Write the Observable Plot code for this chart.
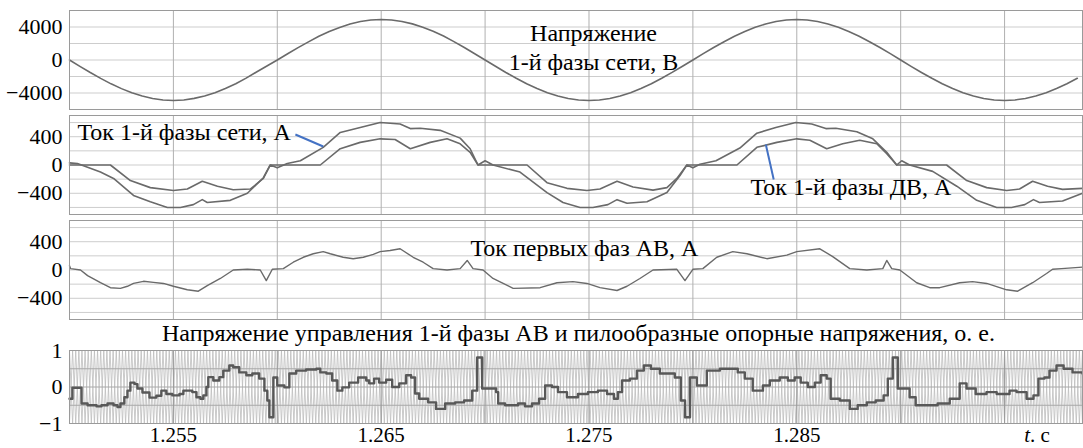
<!DOCTYPE html>
<html><head><meta charset="utf-8">
<script src="https://cdn.jsdelivr.net/npm/d3@7"></script>
<script src="https://cdn.jsdelivr.net/npm/@observablehq/plot@0.6"></script>
<style>
html,body{margin:0;padding:0;background:#fff;}
#chart{position:relative;width:1083px;height:448px;overflow:hidden;}
#chart svg{position:absolute;left:0;}
</style></head><body><div id="chart"></div>
<script>
// ---------------- data ----------------
const xDomain = [1.25, 1.29875];
const xGridTicks = [1.255, 1.26, 1.265, 1.27, 1.275, 1.28, 1.285, 1.29, 1.295];
const xTickLabels = [1.255, 1.265, 1.275, 1.285];
const voltageTickLabels = [-4000, 0, 4000];
const voltageGrid = [-4000, -2000, 0, 2000, 4000];
const currentTickLabels = [-400, 0, 400];
const currentGrid = [-600, -400, -200, 0, 200, 400, 600];
const controlTickLabels = [-1, 0, 1];
const controlGrid = [-0.5, 0, 0.5];

// grid phase voltage, V, sampled every 0.5 ms from t = 1.25 s
const voltageStep = 0.0005;
const gridVoltage = [
  0, -770, -1520, -2230, -2890, -3470, -3970, -4370, -4660, -4840, -4900, -4840, -4650, -4360, -3960, -3450, -2880, -2200, -1450, -720,
  0, 760, 1500, 2200, 2870, 3450, 3950, 4360, 4660, 4840, 4900, 4850, 4670, 4380, 3980, 3480, 2900, 2230, 1520, 760,
  0, -760, -1510, -2220, -2880, -3460, -3960, -4370, -4660, -4840, -4900, -4840, -4660, -4370, -3960, -3460, -2870, -2210, -1500, -750,
  0, 770, 1510, 2220, 2880, 3460, 3960, 4370, 4660, 4840, 4900, 4840, 4660, 4370, 3960, 3460, 2880, 2220, 1510, 770,
  0, -770, -1510, -2220, -2880, -3460, -3960, -4370, -4660, -4840, -4900, -4840, -4660, -4370, -3960, -3460, -2880, -2220
];

// grid phase current, A
const gridCurrentT = [1.25000,1.25038,1.25149,1.25212,1.25308,1.25389,1.25471,1.25534,1.25596,1.25639,
  1.25663,1.25774,1.25856,1.25933,1.25966,1.26000,1.26048,1.26111,1.26221,1.26303,
  1.26399,1.26495,1.26591,1.26640,1.26688,1.26784,1.26880,1.26928,1.26966,1.27000,
  1.27038,1.27168,1.27298,1.27375,1.27457,1.27519,1.27591,1.27635,1.27683,1.27779,
  1.27875,1.27938,1.27971,1.28000,1.28034,1.28111,1.28226,1.28308,1.28399,1.28495,
  1.28572,1.28640,1.28688,1.28789,1.28866,1.28933,1.28981,1.29005,1.29043,1.29154,
  1.29270,1.29366,1.29462,1.29534,1.29597,1.29639,1.29668,1.29779,1.29875];
const gridCurrent = [30,20,-100,-190,-430,-520,-600,-600,-560,-490,
  -530,-500,-400,-180,0,-40,20,60,250,460,
  530,600,580,515,520,490,380,230,0,60,
  0,-100,-390,-530,-600,-600,-560,-490,-540,-520,
  -390,-150,0,-40,10,60,240,450,530,600,
  580,515,520,470,370,180,0,60,0,-90,
  -300,-500,-600,-600,-560,-490,-530,-510,-400];

// motor (ДВ) phase current, A
const motorCurrentT = [1.25000,1.25197,1.25293,1.25389,1.25500,1.25567,1.25639,1.25712,1.25788,1.25870,
  1.25933,1.25966,1.26207,1.26303,1.26399,1.26495,1.26567,1.26640,1.26736,1.26817,
  1.26880,1.26928,1.26966,1.27202,1.27298,1.27394,1.27490,1.27553,1.27635,1.27712,
  1.27808,1.27875,1.27923,1.27971,1.28212,1.28308,1.28404,1.28500,1.28563,1.28644,
  1.28721,1.28803,1.28885,1.28933,1.28981,1.29221,1.29318,1.29414,1.29510,1.29572,
  1.29635,1.29707,1.29779,1.29875];
const motorCurrent = [0,0,-220,-320,-360,-340,-230,-300,-350,-340,
  -190,0,0,230,320,370,360,230,320,370,
  300,180,0,0,-250,-330,-360,-340,-230,-310,
  -355,-320,-190,0,0,250,320,370,350,230,
  300,350,300,160,0,0,-220,-320,-360,-340,
  -230,-300,-345,-330];

// first phases of AV current, A
const avCurrentT = [1.25000,1.25005,1.25053,1.25087,1.25149,1.25197,1.25245,1.25279,1.25308,1.25356,
  1.25404,1.25452,1.25500,1.25567,1.25620,1.25663,1.25726,1.25788,1.25856,1.25918,
  1.25947,1.25976,1.26029,1.26077,1.26125,1.26173,1.26221,1.26255,1.26317,1.26365,
  1.26414,1.26462,1.26495,1.26543,1.26591,1.26654,1.26702,1.26750,1.26817,1.26880,
  1.26914,1.26942,1.26990,1.27038,1.27087,1.27135,1.27265,1.27346,1.27423,1.27490,
  1.27553,1.27635,1.27683,1.27745,1.27808,1.27923,1.27962,1.28000,1.28048,1.28115,
  1.28192,1.28260,1.28356,1.28452,1.28500,1.28611,1.28673,1.28755,1.28837,1.28914,
  1.28933,1.28957,1.28996,1.29077,1.29140,1.29188,1.29284,1.29346,1.29414,1.29510,
  1.29563,1.29635,1.29702,1.29731,1.29774,1.29875];
const avCurrent = [60,20,0,-80,-180,-250,-260,-230,-190,-160,
  -175,-190,-230,-280,-300,-220,-120,0,10,0,
  -150,10,20,110,180,230,260,230,180,160,
  180,220,260,275,300,180,110,20,0,20,
  135,20,0,-120,-190,-260,-250,-180,-165,-190,
  -250,-290,-230,-120,0,10,-150,10,20,180,
  260,230,160,210,260,300,190,20,0,20,
  135,20,0,-180,-250,-250,-180,-165,-190,-280,
  -300,-180,-50,10,20,40];

// control voltage of AV phase 1, p.u. (stepwise)
const controlT = [1.25000,1.25014,1.25058,1.25087,1.25130,1.25154,1.25183,1.25212,1.25231,1.25245,
  1.25264,1.25279,1.25293,1.25313,1.25327,1.25351,1.25385,1.25418,1.25442,1.25466,
  1.25495,1.25529,1.25548,1.25591,1.25611,1.25630,1.25644,1.25659,1.25668,1.25692,
  1.25721,1.25740,1.25769,1.25788,1.25817,1.25851,1.25880,1.25913,1.25938,1.25952,
  1.25962,1.25981,1.26000,1.26034,1.26058,1.26091,1.26139,1.26188,1.26207,1.26236,
  1.26264,1.26289,1.26313,1.26346,1.26389,1.26428,1.26442,1.26466,1.26490,1.26524,
  1.26553,1.26587,1.26620,1.26644,1.26663,1.26683,1.26726,1.26764,1.26808,1.26856,
  1.26899,1.26938,1.26962,1.26986,1.27053,1.27063,1.27096,1.27159,1.27192,1.27226,
  1.27260,1.27289,1.27322,1.27351,1.27394,1.27447,1.27495,1.27543,1.27587,1.27620,
  1.27639,1.27659,1.27697,1.27731,1.27764,1.27798,1.27841,1.27913,1.27942,1.27962,
  1.27986,1.28019,1.28067,1.28130,1.28216,1.28250,1.28288,1.28337,1.28370,1.28418,
  1.28457,1.28490,1.28519,1.28553,1.28587,1.28615,1.28644,1.28663,1.28707,1.28755,
  1.28793,1.28837,1.28880,1.28918,1.28938,1.28962,1.28986,1.29043,1.29072,1.29178,
  1.29236,1.29284,1.29317,1.29361,1.29413,1.29462,1.29524,1.29558,1.29606,1.29639,
  1.29663,1.29692,1.29716,1.29750,1.29784,1.29827,1.29875];
const controlV = [-0.32,-0.02,-0.45,-0.5,-0.53,-0.5,-0.45,-0.5,-0.55,-0.45,
  -0.28,-0.1,0.12,0.08,-0.04,-0.15,-0.29,-0.24,-0.1,-0.19,
  -0.23,-0.19,-0.1,-0.14,-0.28,-0.32,-0.23,0,0.27,0.18,
  0.27,0.45,0.59,0.54,0.4,0.32,0.37,0.23,-0.1,-0.37,
  -0.83,0.26,0.04,-0.01,0.37,0.45,0.48,0.5,0.4,0.37,
  0.18,-0.1,-0.01,0.12,0.26,0.18,0.1,0.23,0.12,0.2,
  0,0.1,0.32,0.26,-0.18,-0.32,-0.42,-0.6,-0.45,-0.42,
  -0.37,-0.1,0.81,-0.04,-0.14,-0.45,-0.5,-0.45,-0.53,-0.45,
  -0.32,0.04,0,-0.14,-0.28,-0.19,-0.14,-0.1,-0.19,-0.32,
  -0.14,0.18,0.23,0.45,0.59,0.5,0.37,0.26,-0.37,-0.83,
  0.26,0.04,0.45,0.5,0.4,0.23,-0.1,0.04,0.18,0.26,
  0.18,0.26,0.12,0,0.12,0.32,0.23,-0.32,-0.37,-0.6,
  -0.5,-0.42,-0.37,-0.23,0.23,0.81,-0.04,-0.28,-0.5,-0.45,
  -0.32,0.1,-0.04,-0.19,-0.14,-0.19,-0.1,-0.14,-0.32,-0.23,
  0.23,0.26,0.45,0.59,0.5,0.4,0.37];

// two opposite-phase triangular reference carriers: half period, s, vertex count, start levels
const carrierHalfPeriod = 0.00015;
const carrierVertices = 326;
const carrierStartLevels = [-1, 1];

// ---------------- build tables ----------------
const voltageData = gridVoltage.map((v, i) => ({t: 1.25 + i * voltageStep, v}));
const gridCurData = gridCurrentT.map((t, i) => ({t, v: gridCurrent[i]}));
const motorCurData = motorCurrentT.map((t, i) => ({t, v: motorCurrent[i]}));
const avCurData = avCurrentT.map((t, i) => ({t, v: avCurrent[i]}));
const controlData = controlT.map((t, i) => ({t, v: controlV[i]}));
const carrierData = carrierStartLevels.flatMap((s, c) =>
  d3.range(carrierVertices).map(k => ({c, t: 1.25 + k * carrierHalfPeriod, v: k % 2 ? -s : s})));

// ---------------- styles ----------------
const W = 1083;
const FONT = "Liberation Serif";
const LINE = "#6a6a6a";
const GRID = "#cdcdcd";
const VGRID = "#b0b0b0";
const FRAME = "#9a9a9a";
const BLUE = "#4472c4";
const TICK_FS = 22;
const LABEL_FS = 24;
const chart = document.getElementById("chart");
const numFmt = d3.format("d");

function place(svg, top) {
  svg.style.top = top + "px";
  chart.appendChild(svg);
  return svg;
}
const baseStyle = {fontFamily: FONT, fontSize: TICK_FS + "px", color: "#000", background: "transparent", overflow: "visible"};
const yAxisOpts = {tickSize: 0, tickPadding: 7, fontSize: TICK_FS, label: null, tickFormat: numFmt, fontFamily: FONT};
const labelOpts = {fontFamily: FONT, fontSize: LABEL_FS, fill: "#000", lineAnchor: "middle", frameAnchor: "top-left"};

// Panel 1: grid voltage
place(Plot.plot({
  width: W, height: 112, marginLeft: 69, marginRight: 1, marginTop: 10, marginBottom: 3,
  x: {domain: xDomain, axis: null, label: null},
  y: {domain: [-6000, 6000], label: null},
  style: baseStyle,
  marks: [
    Plot.gridY(voltageGrid, {stroke: GRID, strokeOpacity: 1}),
    Plot.gridX(xGridTicks, {stroke: VGRID, strokeOpacity: 1}),
    Plot.line(voltageData, {x: "t", y: "v", stroke: LINE, strokeWidth: 1.6}),
    Plot.frame({stroke: FRAME}),
    Plot.axisY(voltageTickLabels, yAxisOpts),
    Plot.text(["Напряжение"], {...labelOpts, textAnchor: "middle", dx: 524, dy: 23}),
    Plot.text(["1-й фазы сети, В"], {...labelOpts, textAnchor: "middle", dx: 524, dy: 52})
  ]
}), 0);

// Panel 2: grid current and motor current
place(Plot.plot({
  width: W, height: 105, marginLeft: 69, marginRight: 1, marginTop: 3, marginBottom: 3,
  x: {domain: xDomain, axis: null, label: null},
  y: {domain: [-700, 700], label: null},
  style: baseStyle,
  marks: [
    Plot.gridY(currentGrid, {stroke: GRID, strokeOpacity: 1}),
    Plot.gridX(xGridTicks, {stroke: VGRID, strokeOpacity: 1}),
    Plot.line(motorCurData, {x: "t", y: "v", stroke: LINE, strokeWidth: 1.6}),
    Plot.line(gridCurData, {x: "t", y: "v", stroke: LINE, strokeWidth: 1.6}),
    Plot.frame({stroke: FRAME}),
    Plot.axisY(currentTickLabels, yAxisOpts),
    Plot.text(["Ток 1-й фазы сети, А"], {...labelOpts, textAnchor: "start", dx: 8, dy: 17}),
    Plot.text(["Ток 1-й фазы ДВ, А"], {...labelOpts, textAnchor: "start", dx: 681, dy: 72}),
    Plot.link([0], {x1: [1.26087], y1: [431], x2: [1.26221], y2: [262], stroke: BLUE, strokeWidth: 2}),
    Plot.link([0], {x1: [1.28351], y1: [290], x2: [1.28389], y2: [-205], stroke: BLUE, strokeWidth: 2})
  ]
}), 112);

// Panel 3: AV first-phase currents
place(Plot.plot({
  width: W, height: 105, marginLeft: 69, marginRight: 1, marginTop: 3, marginBottom: 3,
  x: {domain: xDomain, axis: null, label: null},
  y: {domain: [-700, 700], label: null},
  style: baseStyle,
  marks: [
    Plot.gridY(currentGrid, {stroke: GRID, strokeOpacity: 1}),
    Plot.gridX(xGridTicks, {stroke: VGRID, strokeOpacity: 1}),
    Plot.line(avCurData, {x: "t", y: "v", stroke: LINE, strokeWidth: 1.4}),
    Plot.frame({stroke: FRAME}),
    Plot.axisY(currentTickLabels, yAxisOpts),
    Plot.text(["Ток первых фаз АВ, А"], {...labelOpts, textAnchor: "start", dx: 401, dy: 28})
  ]
}), 217);

// Panel 4: control voltage and carriers
const p4 = place(Plot.plot({
  width: W, height: 126, marginLeft: 69, marginRight: 1, marginTop: 28, marginBottom: 25,
  x: {domain: xDomain, label: null},
  y: {domain: [-1, 1], label: null},
  style: baseStyle,
  marks: [
    Plot.line(carrierData, {x: "t", y: "v", z: "c", stroke: "#bdbdbd", strokeWidth: 0.8}),
    Plot.gridY(controlGrid, {stroke: "#a8a8a8", strokeOpacity: 1}),
    Plot.gridX(xGridTicks, {stroke: "#999", strokeOpacity: 1}),
    Plot.line(controlData, {x: "t", y: "v", curve: "step-after", stroke: "#585858", strokeWidth: 2.4}),
    Plot.frame({stroke: FRAME}),
    Plot.axisY(controlTickLabels, yAxisOpts),
    Plot.axisX(xTickLabels, {tickSize: 0, tickPadding: 4, fontSize: 21, label: null, fontFamily: FONT, tickFormat: d3.format(".3f")}),
    Plot.text(["Напряжение управления 1-й фазы АВ и пилообразные опорные напряжения, о. е."],
      {...labelOpts, textAnchor: "middle", dx: 509, dy: -17})
  ]
}), 322);

// time-axis unit label with italic t
const unit = d3.select(p4).append("text")
  .attr("x", 1037).attr("y", 113).attr("dy", "0.35em")
  .attr("font-size", 21).attr("fill", "#000");
unit.append("tspan").attr("font-style", "italic").text("t");
unit.append("tspan").text(". c");

// make sure every text uses the serif face
d3.selectAll("#chart svg, #chart svg g, #chart svg text").attr("font-family", FONT).style("font-family", '"' + FONT + '", serif');
</script></body></html>
